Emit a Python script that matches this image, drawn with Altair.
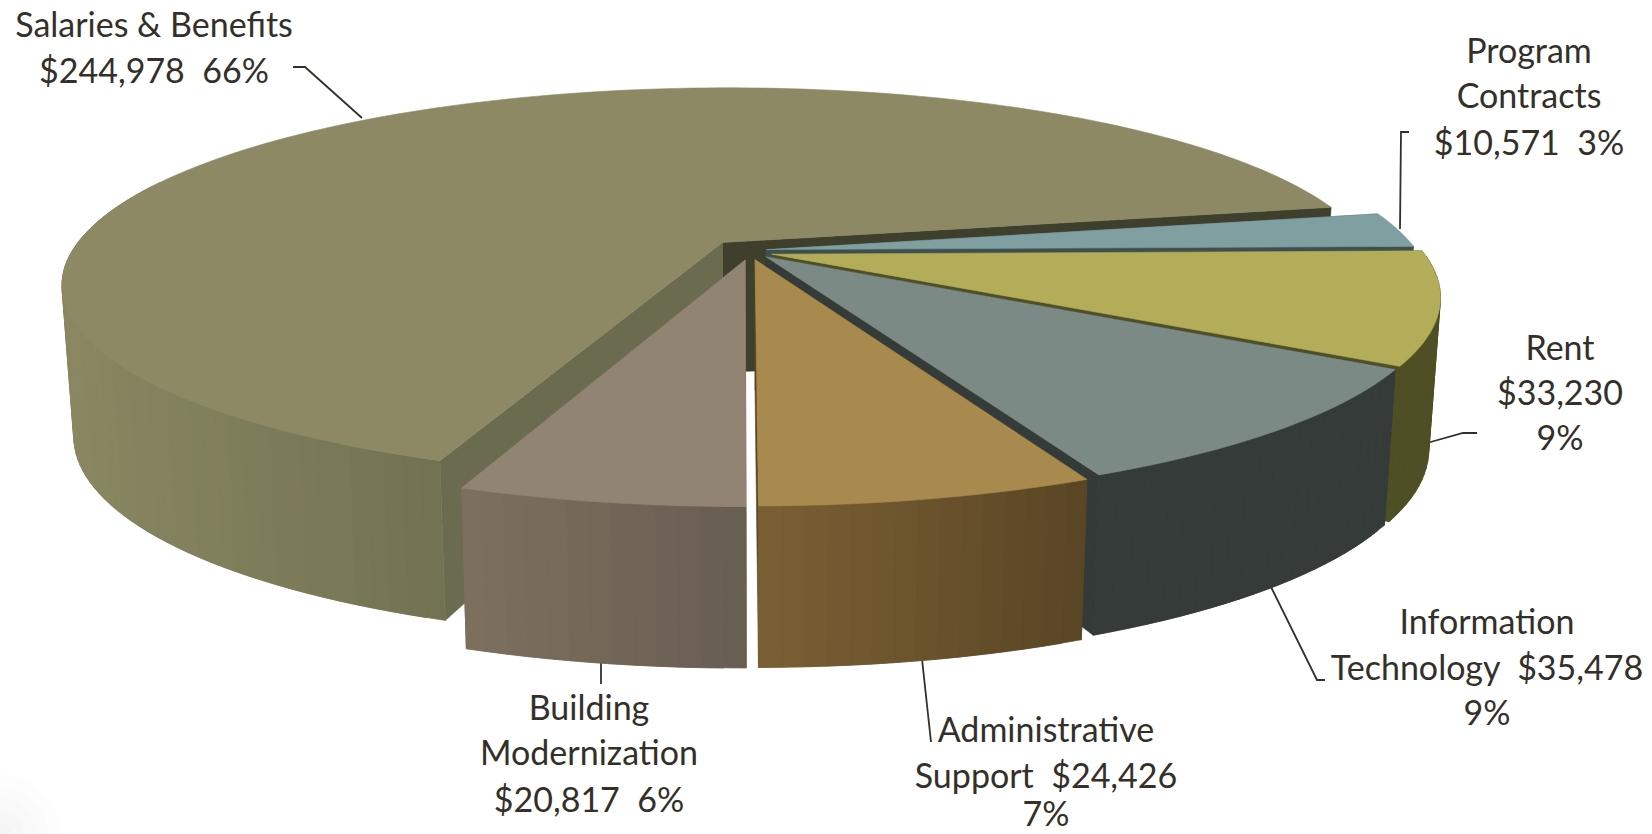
import math
import altair as alt

# Operating budget by category, clockwise from the three o'clock position
categories = ["Rent", "Information Technology", "Administrative Support",
              "Building Modernization", "Salaries & Benefits", "Program Contracts"]
amounts = [33230, 35478, 24426, 20817, 244978, 10571]

# How far each slice is pulled out of the pie, in pie radii (sideways, towards the viewer)
pull_x = [0.024, 0.015, -0.0015, -0.0165, -0.052, 0.016]
pull_y = [0.022, 0.035, 0.05, 0.052, -0.04, -0.002]

top_colors = ["#b3ad59", "#7c8a85", "#a88a4e", "#928472", "#8c8964", "#7f9fa1"]
wall_from = ["#4f4f26", "#353b39", "#5a4625", "#685e52", "#737353", "#56686a"]
wall_to = ["#4f4f26", "#353b39", "#7a5f34", "#7d6f5e", "#8a8762", "#56686a"]
face_start = ["#4f4f26", "#353b39", "#5a4625", "#685e52", "#6b6b50", "#3f4f50"]
face_end = ["#4f4f26", "#333a38", "#5a4625", "#685e52", "#3f3f2d", "#3f4f50"]

# Perspective camera for the tilted disc
CX, CY = 756.0, 250.0
A, B = 650.0, 190.0
K = 0.21
WALL, WALL_TILT, FOOT_SHRINK = 149.0, 0.08, 0.017
CENTRE_DROP = 0.872
FIRST_ANGLE = math.radians(-1.0)


def project(theta, radius, z, i):
    u = radius * math.cos(theta) + pull_x[i]
    v = radius * math.sin(theta) + pull_y[i]
    w = 1 - K * v
    x = CX + A * u / w * (1 - FOOT_SHRINK * z)
    y = CY + B * v / w + z * WALL * (1 + WALL_TILT * v)
    return [x, y]


def polygon(points, fill):
    ring = points + [points[0]]
    return {"type": "Feature", "properties": {"fill": fill},
            "geometry": {"type": "Polygon", "coordinates": [ring]}}


def mix(c0, c1, t):
    a = [int(c0[i:i + 2], 16) for i in (1, 3, 5)]
    b = [int(c1[i:i + 2], 16) for i in (1, 3, 5)]
    return "#%02x%02x%02x" % tuple(round(x + (y - x) * t) for x, y in zip(a, b))


total = sum(amounts)
spans = []
start = FIRST_ANGLE
for amount in amounts:
    sweep = 2 * math.pi * amount / total
    spans.append((start, start + sweep))
    start += sweep


def wall_visible(theta):
    s, c = math.sin(theta), math.cos(theta)
    return s > -0.3 and not (s < 0 and c > 0)


def slice_features(i):
    t0, t1 = spans[i]
    n = max(4, int((t1 - t0) / math.radians(1.5)))
    angles = [t0 + (t1 - t0) * j / n for j in range(n + 1)]
    out = []
    apex_top = project(0, 0, 0, i)
    apex_low = project(0, 0, CENTRE_DROP, i)
    # Cut faces running from the centre out to the rim
    out.append(polygon([apex_top, project(t1, 1, 0, i),
                        project(t1, 1, 1, i), apex_low], face_end[i]))
    out.append(polygon([apex_top, project(t0, 1, 0, i),
                        project(t0, 1, 1, i), apex_low], face_start[i]))
    # Outer wall, shaded in narrow overlapping bands across its width
    walls = [j for j in range(n) if wall_visible(angles[j]) or wall_visible(angles[j + 1])]
    xs = [project(angles[j], 1, 0, i)[0] for j in walls] or [0.0]
    lo, hi = min(xs), max(xs)
    for j in walls:
        a, b = angles[j], angles[min(j + 2, n)]
        x = project(a, 1, 0, i)[0]
        shade = mix(wall_from[i], wall_to[i], (hi - x) / max(hi - lo, 1))
        out.append(polygon([project(a, 1, 0, i), project(b, 1, 0, i),
                            project(b, 1, 1, i), project(a, 1, 1, i)], shade))
    # Top surface
    rim = [project(a, 1, 0, i) for a in angles]
    out.append(polygon([apex_top] + rim, top_colors[i]))
    return out


# Painter's order, back of the pie first
features = []
for index in [4, 5, 0, 1, 2, 3]:
    features.extend(slice_features(index))

flat = alt.Projection(type="identity", scale=1, translate=[0, 0]).to_dict()

pie = alt.Chart(alt.Data(values=features)).mark_geoshape(strokeWidth=0.6).encode(
    fill=alt.Fill("properties.fill:N", scale=None),
    stroke=alt.Stroke("properties.fill:N", scale=None),
).project(**flat)

# Faint vignette in the lower-left corner of the page
glow_radii = [60, 48, 36, 24, 12]
glow = alt.Chart(alt.Data(values=[
    polygon([[r * math.cos(math.radians(d)), 834 - r * math.sin(math.radians(d))]
             for d in range(-5, 100, 5)] + [[0, 840]], "#000000")
    for r in glow_radii
])).mark_geoshape(fill="#000000", fillOpacity=0.007, strokeWidth=0).project(**flat)

# Leader lines from the labels to their slices
leader_paths = [
    [[293, 67], [305, 67], [362, 118]],
    [[1409, 132], [1401, 132], [1400, 229]],
    [[1477, 433], [1463, 433], [1427, 443]],
    [[1270, 585], [1317, 680], [1325, 680]],
    [[922, 659], [931, 742]],
    [[601, 663], [601, 684]],
]
leaders = alt.Chart(alt.Data(values=[
    {"type": "Feature", "properties": {},
     "geometry": {"type": "LineString", "coordinates": path}}
    for path in leader_paths
])).mark_geoshape(filled=False, stroke="#33302a", strokeWidth=1.8).project(**flat)

# Label text, one row per line; the wide gaps are kept with a no-break space
label_lines = [
    ("Salaries & Benefits", 154, 27), ("$244,978\u00a0 66%", 154, 73),
    ("Program", 1529, 53), ("Contracts", 1529, 98), ("$10,571\u00a0 3%", 1529, 145),
    ("Rent", 1560, 350), ("$33,230", 1560, 395), ("9%", 1560, 440),
    ("Information", 1487, 624), ("Technology\u00a0 $35,478", 1487, 670), ("9%", 1487, 715),
    ("Building", 589, 710), ("Modernization", 589, 755), ("$20,817\u00a0 6%", 589, 802),
    ("Administrative", 1046, 732), ("Support\u00a0 $24,426", 1046, 778), ("7%", 1046, 816),
]
labels = alt.Chart(alt.Data(values=[
    {"line": t, "px": x, "py": y} for t, x, y in label_lines
])).mark_text(font="Lato", fontSize=34, color="#33302a", align="center", baseline="middle").encode(
    x=alt.X("px:Q", scale=None),
    y=alt.Y("py:Q", scale=None),
    text="line:N",
)

chart = alt.layer(glow, leaders, pie, labels).properties(
    width=1652, height=834, padding=0, autosize=alt.AutoSizeParams(type="none"),
    background="white",
).configure_view(stroke=None)

chart.save("out.html", embed_options={"renderer": "svg", "actions": False})
